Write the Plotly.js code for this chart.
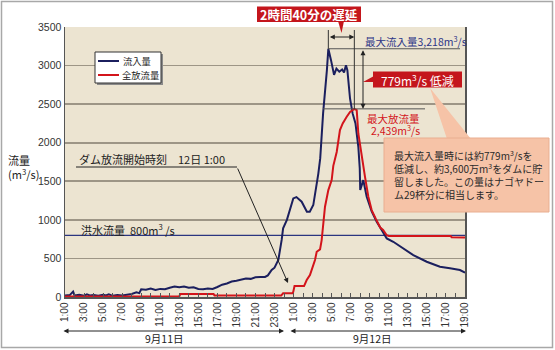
<!DOCTYPE html>
<html><head><meta charset="utf-8">
<script src="https://cdn.plot.ly/plotly-3.0.1.min.js"></script>
<style>html,body{margin:0;padding:0;background:#fff}#c{width:555px;height:350px}</style>
</head><body><div id="c"></div>
<script>
// hours counted from 9/11 0:00 (25 = 9/12 1:00)
const inflowHours = [1,1.5,1.85,2,2.5,3,3.3,3.6,4,4.5,5,5.3,5.6,6,6.5,7,7.5,8,8.5,8.8,9,9.5,10,10.5,11,11.5,12,12.5,13,13.5,14,14.5,15,15.5,16,16.5,17,17.5,18,18.5,19,19.5,20,20.5,21,21.5,22,22.3,22.7,23,23.4,23.75,23.9,24.3,24.6,24.97,25.3,25.85,26.4,26.7,27.07,27.25,27.6,27.8,28.1,28.5,28.65,28.93,29.25,29.5,29.8,30.1,30.3,30.5,30.65,30.93,31.2,31.5,31.8,31.95,32.0,32.32,32.68,33.2,33.73,34.25,34.78,35.47,36.5,37.57,38.98,40.37,41.42,42.47,43];
const inflow = [20,25,70,20,30,15,35,20,25,15,30,20,35,15,25,20,30,40,60,50,100,95,110,90,105,100,120,135,125,135,120,125,105,100,110,105,130,160,175,200,210,225,240,235,255,258,260,280,350,380,480,740,890,1000,1127,1278,1295,1235,1105,1105,1192,1320,1600,1800,2380,2940,3218,3070,2880,2960,2920,2950,2910,3005,2940,2570,2380,2250,1947,1667,1386,1515,1300,1110,975,868,760,716,631,544,457,392,372,350,315];
const outflowHours = [1,13.0,13.1,16.6,16.7,23.7,23.9,24.9,24.97,25.1,26.1,26.38,26.72,27.0,27.25,27.43,27.78,27.95,28.12,28.3,28.65,29.0,29.17,29.53,29.87,30.16,30.58,30.93,31.38,31.63,31.8,32.15,32.5,32.85,33.2,33.65,34.1,34.4,34.78,35.0,41.5,41.6,43];
const outflow = [8,8,38,38,18,18,48,50,69,142,142,220,285,392,479,587,617,738,954,1170,1386,1515,1700,1880,2163,2250,2336,2400,2439,2422,2120,1817,1558,1300,1127,1010,900,868,800,790,790,775,770];
const tickHours = [1,3,5,7,9,11,13,15,17,19,21,23,25,27,29,31,33,35,37,39,41,43];
const tickLabels = ['1:00','3:00','5:00','7:00','9:00','11:00','13:00','15:00','17:00','19:00','21:00','23:00','1:00','3:00','5:00','7:00','9:00','11:00','13:00','15:00','17:00','19:00'];
const seriesNames = ['流入量','全放流量'];
const seriesColors = ['#1b1f5e','#d3141b'];
const floodFlow = 800;
const storedVolume = '3,600万';
const domeCount = 29;

const JP = '"Noto Sans CJK JP", sans-serif';
const LAT = '"Liberation Sans", Arial, sans-serif';
const NAR = '"Liberation Sans Narrow", "Liberation Sans", Arial, sans-serif';

// pixel -> paper helpers
const PX = x => (x - 65) / 400;
const PY = y => (297 - y) / 270;
const HX = x => (x - 65) / 400 * 42 + 1;       // pixel -> hour
const VY = y => (297 - y) / 270 * 3500;        // pixel -> value

function peak(xs, ys){ let i = ys.indexOf(Math.max(...ys)); return {h: xs[i], v: ys[i]}; }
const pIn = peak(inflowHours, inflow);
const pOut = peak(outflowHours, outflow);
const diff = Math.round(pIn.v - pOut.v);
const fmt = v => v.toLocaleString('en-US');

const traces = [
  {x: inflowHours, y: inflow, name: seriesNames[0], type: 'scatter', mode: 'lines',
   line: {color: seriesColors[0], width: 2}},
  {x: outflowHours, y: outflow, name: seriesNames[1], type: 'scatter', mode: 'lines',
   line: {color: seriesColors[1], width: 2}}
];

const topY = VY(30);
const shapes = [
  // outer frame
  {type:'rect', xref:'paper', yref:'paper', x0:PX(1.5), x1:PX(552.5), y0:PY(1.5), y1:PY(347.5), line:{color:'#a8a8a8', width:1.5}},
  // flood flow line
  {type:'line', xref:'x', yref:'y', x0:1, x1:43, y0:floodFlow, y1:floodFlow, line:{color:'#2b3580', width:1.2}, layer:'between'},
  // peak levels
  {type:'line', xref:'x', yref:'y', x0:pIn.h, x1:HX(460), y0:pIn.v, y1:pIn.v, line:{color:'#555', width:1}},
  {type:'line', xref:'x', yref:'y', x0:HX(323), x1:HX(425), y0:pOut.v, y1:pOut.v, line:{color:'#555', width:1}},
  // vertical markers
  {type:'line', xref:'x', yref:'y', x0:pIn.h, x1:pIn.h, y0:pIn.v, y1:topY, line:{color:'#333', width:1}},
  {type:'line', xref:'x', yref:'y', x0:pOut.h, x1:pOut.h, y0:pOut.v, y1:topY, line:{color:'#333', width:1}},
  // red boxes
  {type:'rect', xref:'paper', yref:'paper', x0:PX(257), x1:PX(361), y0:PY(22), y1:PY(6.5), fillcolor:'#c4161c', line:{width:0}},
  {type:'path', xref:'paper', yref:'paper', path:`M ${PX(338)} ${PY(21)} L ${PX(344)} ${PY(21)} L ${PX(341.5)} ${PY(33)} Z`, fillcolor:'#c4161c', line:{width:0}},
  {type:'rect', xref:'paper', yref:'paper', x0:PX(373), x1:PX(462), y0:PY(87.5), y1:PY(71.5), fillcolor:'#c4161c', line:{width:0}},
  {type:'path', xref:'paper', yref:'paper', path:`M ${PX(363)} ${PY(82)} L ${PX(374)} ${PY(76)} L ${PX(374)} ${PY(82)} Z`, fillcolor:'#c4161c', line:{width:0}},
  // callout
  {type:'path', xref:'paper', yref:'paper', path:`M ${PX(430)} ${PY(88)} L ${PX(447)} ${PY(139)} L ${PX(471)} ${PY(139)} Z`, fillcolor:'#f6c3a7', line:{width:0}},
  {type:'rect', xref:'paper', yref:'paper', x0:PX(384), x1:PX(549), y0:PY(212), y1:PY(138), fillcolor:'#f6c3a7', line:{color:'#e9ae90', width:1}},
  // start-time underline
  {type:'line', xref:'paper', yref:'paper', x0:PX(76), x1:PX(237), y0:PY(167), y1:PY(167), line:{color:'#222', width:1}},
  // legend box (shadow + box + samples)
  {type:'rect', xref:'paper', yref:'paper', x0:PX(97), x1:PX(163), y0:PY(85), y1:PY(54), fillcolor:'#8a8a8a', line:{width:0}},
  {type:'rect', xref:'paper', yref:'paper', x0:PX(95), x1:PX(161), y0:PY(83), y1:PY(52), fillcolor:'#ffffff', line:{color:'#333', width:1}},
  {type:'line', xref:'paper', yref:'paper', x0:PX(98), x1:PX(119), y0:PY(61), y1:PY(61), line:{color:seriesColors[0], width:2}},
  {type:'line', xref:'paper', yref:'paper', x0:PX(98), x1:PX(119), y0:PY(75), y1:PY(75), line:{color:seriesColors[1], width:2}}
];

const arrowBase = {text:'', showarrow:true, arrowcolor:'#222', arrowwidth:1, arrowsize:1, arrowhead:2, standoff:0, startstandoff:0};
const annotations = [
  // legend texts
  {xref:'paper', yref:'paper', x:PX(121), y:PY(61), xanchor:'left', yanchor:'middle', showarrow:false,
   text:seriesNames[0], font:{family:JP, size:9.3, color:'#222'}},
  {xref:'paper', yref:'paper', x:PX(120), y:PY(75), xanchor:'left', yanchor:'middle', showarrow:false,
   text:seriesNames[1], font:{family:JP, size:9.3, color:'#222'}},
  // y title
  {xref:'paper', yref:'paper', x:PX(6), y:PY(167), xanchor:'left', yanchor:'middle', align:'left', showarrow:false,
   text:'流量<br>(m<sup>3</sup>/s)', font:{family:JP, size:11, color:'#222'}},
  // delay title
  {xref:'paper', yref:'paper', x:PX(309), y:PY(14.5), xanchor:'center', yanchor:'middle', showarrow:false,
   text:'<b>2時間40分の遅延</b>', font:{family:JP, size:12.5, color:'#fff'}},
  // horizontal double arrow
  Object.assign({}, arrowBase, {xref:'x', yref:'y', axref:'x', ayref:'y', x:pOut.h, y:VY(37), ax:pIn.h, ay:VY(37), arrowside:'end+start'}),
  // vertical double arrow
  Object.assign({}, arrowBase, {xref:'x', yref:'y', axref:'x', ayref:'y', x:HX(363), y:pOut.v, ax:HX(363), ay:pIn.v, arrowside:'end+start'}),
  // max inflow label
  {xref:'paper', yref:'paper', x:PX(363), y:PY(41), xanchor:'left', yanchor:'middle', showarrow:false,
   text:`最大流入量${fmt(pIn.v)}m<sup>3</sup>/s`, font:{family:JP, size:10.5, color:'#2d3587'}},
  // reduction
  {xref:'paper', yref:'paper', x:PX(417.5), y:PY(79.5), xanchor:'center', yanchor:'middle', showarrow:false,
   text:`${diff}m<sup>3</sup>/s 低減`, font:{family:JP, size:12, color:'#fff'}},
  // max outflow
  {xref:'paper', yref:'paper', x:PX(393), y:PY(118), xanchor:'center', yanchor:'middle', showarrow:false,
   text:'最大放流量', font:{family:JP, size:10.5, color:'#d3141b'}},
  {xref:'paper', yref:'paper', x:PX(395), y:PY(130), xanchor:'center', yanchor:'middle', showarrow:false,
   text:`${fmt(pOut.v)}m<sup>3</sup>/s`, font:{family:JP, size:10.5, color:'#d3141b'}},
  // callout text
  {xref:'paper', yref:'paper', x:PX(392), y:PY(175), xanchor:'left', yanchor:'middle', align:'left', showarrow:false,
   text:`最大流入量時には約${diff}m<sup>3</sup>/sを<br>低減し、約${storedVolume}m<sup>3</sup>をダムに貯<br>留しました。この量はナゴヤドー<br>ム${domeCount}杯分に相当します。`,
   font:{family:JP, size:10, color:'#2a2a2a'}},
  // start time
  {xref:'paper', yref:'paper', x:PX(77), y:PY(159), xanchor:'left', yanchor:'middle', showarrow:false,
   text:'ダム放流開始時刻　12日 1:00', font:{family:JP, size:11, color:'#222'}},
  Object.assign({}, arrowBase, {xref:'x', yref:'y', axref:'x', ayref:'y', x:HX(288), y:VY(283), ax:HX(237), ay:VY(167)}),
  // flood flow label
  {xref:'paper', yref:'paper', x:PX(79), y:PY(229), xanchor:'left', yanchor:'middle', showarrow:false,
   text:`洪水流量  ${floodFlow}m<sup>3</sup> /s`, font:{family:JP, size:11, color:'#222'}},
  // day arrows
  Object.assign({}, arrowBase, {xref:'paper', yref:'paper', x:PX(284), y:PY(331), ax:-(284-62), ay:0, arrowside:'end+start'}),
  Object.assign({}, arrowBase, {xref:'paper', yref:'paper', x:PX(466), y:PY(331), ax:-(466-289), ay:0, arrowside:'end+start'}),
  {xref:'paper', yref:'paper', x:PX(164), y:PY(339), xanchor:'center', yanchor:'middle', showarrow:false,
   text:'9月11日', font:{family:JP, size:10.5, color:'#222'}},
  {xref:'paper', yref:'paper', x:PX(372), y:PY(339), xanchor:'center', yanchor:'middle', showarrow:false,
   text:'9月12日', font:{family:JP, size:10.5, color:'#222'}}
];

const layout = {
  width: 555, height: 350,
  margin: {l:65, r:90, t:27, b:53},
  paper_bgcolor: '#ffffff',
  plot_bgcolor: '#ece4d1',
  showlegend: false,
  xaxis: {range:[1,43], tickmode:'array', tickvals:tickHours, ticktext:tickLabels, tickangle:-90,
          ticks:'inside', ticklen:4, tickcolor:'#555', showgrid:false, zeroline:false,
          showline:true, linecolor:'#555', linewidth:1.5,
          minor:{tickmode:'linear', tick0:1, dtick:1, ticks:'inside', ticklen:4, tickcolor:'#555', showgrid:false},
          tickfont:{family:NAR, size:10, color:'#333'}},
  yaxis: {range:[0,3500], dtick:500, tick0:0, showgrid:true, gridcolor:'#9d9586', gridwidth:1.6, zeroline:false,
          showline:true, mirror:true, linecolor:'#555', linewidth:1.5, ticks:'',
          tickfont:{family:LAT, size:10.5, color:'#333'}},
  shapes: shapes,
  annotations: annotations
};

Plotly.newPlot('c', traces, layout, {displayModeBar:false, staticPlot:true});
</script></body></html>
